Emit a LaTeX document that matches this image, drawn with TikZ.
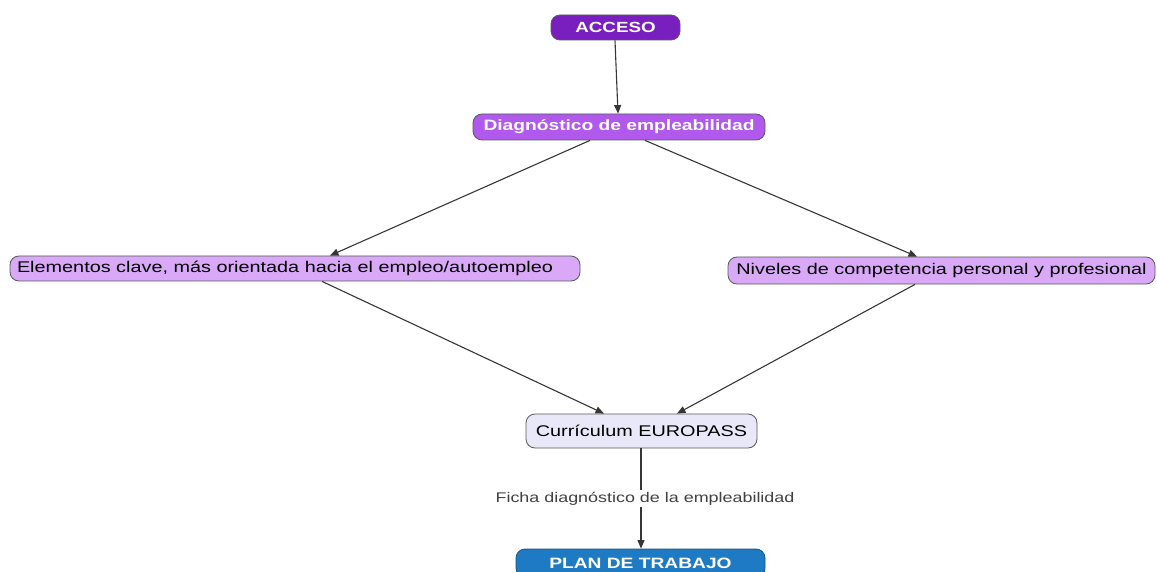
\documentclass[tikz,border=0pt]{standalone}
\usepackage{fontspec}
\setmainfont{Liberation Sans}[FakeStretch=1.28]
\usetikzlibrary{arrows.meta}
\definecolor{accfill}{HTML}{7A1FBF}
\definecolor{diagfill}{HTML}{B159EC}
\definecolor{lightfill}{HTML}{D9A8F7}
\definecolor{currfill}{HTML}{E9E8F8}
\definecolor{planfill}{HTML}{1F7AC4}
\definecolor{edgegray}{HTML}{363636}
\begin{document}
\begin{tikzpicture}[x=1pt,y=-1pt,
  box/.style={draw=gray!70!black, line width=0.8pt, rounded corners=9pt, inner sep=0pt, anchor=center, align=center},
  boldbox/.style={box, text=white, font=\fontsize{15}{17}\selectfont\bfseries},
  plainbox/.style={box, text=black, font=\fontsize{15.5}{18}\selectfont},
  link/.style={draw=edgegray, line width=1.1pt, -{Triangle[length=8.5pt,width=7pt]}}]
\useasboundingbox (0,0) rectangle (1157,572);
% concept boxes
\node[boldbox, fill=accfill, minimum width=129pt, minimum height=25pt, font=\fontsize{14.7}{17}\selectfont\bfseries] (acc) at (615.5,27.5) {ACCESO};
\node[boldbox, fill=diagfill, minimum width=292pt, minimum height=26pt] (diag) at (619,127) {Diagnóstico de empleabilidad};
\node[plainbox, fill=lightfill, minimum width=570pt, minimum height=25pt] (elem) at (295,268.5) {Elementos clave, más orientada hacia el empleo/autoempleo\hspace*{20pt}};
\node[plainbox, fill=lightfill, minimum width=427pt, minimum height=27pt] (niv) at (941.5,270.5) {Niveles de competencia personal y profesional};
\node[plainbox, fill=currfill, minimum width=231pt, minimum height=34pt] (curr) at (641.5,431) {Currículum EUROPASS};
\node[boldbox, fill=planfill, draw=planfill!70!black, minimum width=249pt, minimum height=28pt] (plan) at (640.5,563) {PLAN DE TRABAJO};
% connectors
\draw[link] (acc.south -| 615,0) -- (diag.north -| 618,0);
\draw[link] (diag.south -| 590,0) -- (elem.north -| 330,0);
\draw[link] (diag.south -| 645,0) -- (niv.north -| 917,0);
\draw[link] (elem.south -| 322,0) -- (curr.north -| 604,0);
\draw[link] (niv.south -| 915,0) -- (curr.north -| 677,0);
\draw[link] (curr.south -| 641,0) -- node[fill=white, inner sep=2pt, xshift=4pt, font=\fontsize{14}{16}\selectfont, text=black!75] (ficha) {Ficha diagnóstico de la empleabilidad} (plan.north -| 641,0);
\end{tikzpicture}
\end{document}
